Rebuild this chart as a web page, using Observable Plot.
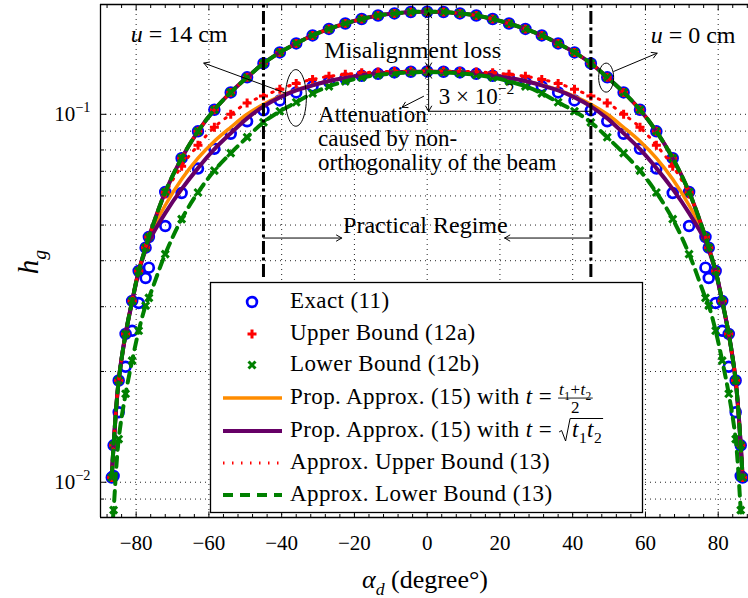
<!DOCTYPE html>
<html>
<head>
<meta charset="utf-8">
<script src="https://cdn.jsdelivr.net/npm/d3@7"></script>
<script src="https://cdn.jsdelivr.net/npm/@observablehq/plot@0.6"></script>
<style>
  html, body { margin: 0; padding: 0; background: #fff; overflow: hidden; }
  svg text { white-space: pre; }
</style>
</head>
<body>
<div id="chart"></div>
<script>
// ---------- data ----------
const alphaDeg = [-86.7, -86.2, -84.8, -82.9, -81.1, -79.3, -77.4, -76.5, -72, -67.5, -63, -58.5, -54, -49.5, -45, -40.5, -36, -31.5, -27, -22.5, -18, -13.5, -9, -4.5, 0,
  4.5, 9, 13.5, 18, 22.5, 27, 31.5, 36, 40.5, 45, 49.5, 54, 58.5, 63, 67.5, 72, 76.5, 77.4, 79.3, 81.1, 82.9, 84.8, 86.2, 86.7];

// u = 0 cm : exact, bounds and approximations coincide
const hgU0 = [0.0103, 0.0126, 0.0189, 0.0253, 0.0311, 0.0375, 0.0434, 0.0464, 0.0615, 0.0760, 0.0899, 0.1029, 0.1147, 0.1260, 0.1375, 0.1473, 0.1558, 0.1638, 0.1706, 0.1765, 0.1816, 0.1856, 0.1880, 0.1897, 0.1900,
  0.1897, 0.1880, 0.1856, 0.1816, 0.1765, 0.1706, 0.1638, 0.1558, 0.1473, 0.1375, 0.1260, 0.1147, 0.1029, 0.0899, 0.0760, 0.0615, 0.0464, 0.0434, 0.0375, 0.0311, 0.0253, 0.0189, 0.0126, 0.0103];

// u = 14 cm
const hgU14Exact = [0.0076, 0.0104, 0.0155, 0.0206, 0.0258, 0.0307, 0.0359, 0.0383, 0.0497, 0.0611, 0.0712, 0.0806, 0.0885, 0.0957, 0.1025, 0.1091, 0.1147, 0.1191, 0.1225, 0.1252, 0.1272, 0.1288, 0.1300, 0.1305, 0.1308,
  0.1305, 0.1300, 0.1288, 0.1272, 0.1252, 0.1225, 0.1191, 0.1147, 0.1091, 0.1025, 0.0957, 0.0885, 0.0806, 0.0712, 0.0611, 0.0497, 0.0383, 0.0359, 0.0307, 0.0258, 0.0206, 0.0155, 0.0104, 0.0076];
const hgU14Upper = [0.0103, 0.0126, 0.0189, 0.0253, 0.0311, 0.0375, 0.0434, 0.0464, 0.0607, 0.0723, 0.0824, 0.0922, 0.1000, 0.1073, 0.1122, 0.1169, 0.1213, 0.1244, 0.1268, 0.1284, 0.1296, 0.1304, 0.1308, 0.1310, 0.1312,
  0.1310, 0.1308, 0.1304, 0.1296, 0.1284, 0.1268, 0.1244, 0.1213, 0.1169, 0.1122, 0.1073, 0.1000, 0.0922, 0.0824, 0.0723, 0.0607, 0.0464, 0.0434, 0.0375, 0.0311, 0.0253, 0.0189, 0.0126, 0.0103];
const hgU14Lower = [0.0072, 0.0084, 0.0131, 0.0174, 0.0214, 0.0258, 0.0302, 0.0317, 0.0417, 0.0519, 0.0613, 0.0703, 0.0784, 0.0866, 0.0951, 0.1019, 0.1078, 0.1140, 0.1191, 0.1229, 0.1260, 0.1280, 0.1292, 0.1300, 0.1304,
  0.1300, 0.1292, 0.1280, 0.1260, 0.1229, 0.1191, 0.1140, 0.1078, 0.1019, 0.0951, 0.0866, 0.0784, 0.0703, 0.0613, 0.0519, 0.0417, 0.0317, 0.0302, 0.0258, 0.0214, 0.0174, 0.0131, 0.0084, 0.0072];
const hgU14PropMean = [0.0103, 0.0126, 0.0189, 0.0253, 0.0311, 0.0375, 0.0433, 0.0464, 0.0566, 0.0666, 0.0760, 0.0845, 0.0922, 0.1000, 0.1065, 0.1119, 0.1165, 0.1202, 0.1232, 0.1256, 0.1276, 0.1292, 0.1300, 0.1305, 0.1308,
  0.1305, 0.1300, 0.1292, 0.1276, 0.1256, 0.1232, 0.1202, 0.1165, 0.1119, 0.1065, 0.1000, 0.0922, 0.0845, 0.0760, 0.0666, 0.0566, 0.0464, 0.0433, 0.0375, 0.0311, 0.0253, 0.0189, 0.0126, 0.0103];
const hgU14PropGeo = [0.0103, 0.0126, 0.0189, 0.0253, 0.0309, 0.0373, 0.0428, 0.0452, 0.0539, 0.0626, 0.0714, 0.0804, 0.0888, 0.0975, 0.1051, 0.1112, 0.1161, 0.1198, 0.1232, 0.1256, 0.1276, 0.1292, 0.1300, 0.1305, 0.1308,
  0.1305, 0.1300, 0.1292, 0.1276, 0.1256, 0.1232, 0.1198, 0.1161, 0.1112, 0.1051, 0.0975, 0.0888, 0.0804, 0.0714, 0.0626, 0.0539, 0.0452, 0.0428, 0.0373, 0.0309, 0.0253, 0.0189, 0.0126, 0.0103];

const xTickValues = [-80, -60, -40, -20, 0, 20, 40, 60, 80];
const xMinorTickValues = [-88, -84, -76, -72, -68, -64, -56, -52, -48, -44, -36, -32, -28, -24, -16, -12, -8, -4,
  4, 8, 12, 16, 24, 28, 32, 36, 44, 48, 52, 56, 64, 68, 72, 76, 84, 88];
const yTickValues = [0.01, 0.1];
const yTickLabels = ["10^{−2}", "10^{−1}"];
const yMinorTickValues = [0.009, 0.02, 0.03, 0.04, 0.05, 0.06, 0.07, 0.08, 0.09];
const legendLabels = ["Exact (11)", "Upper Bound (12a)", "Lower Bound (12b)",
  "Prop. Approx. (15) with *t* =", "Prop. Approx. (15) with *t* =",
  "Approx. Upper Bound (13)", "Approx. Lower Bound (13)"];

const xDomain = [-89.8, 88.33];
const yDomain = [0.00802, 0.1988];

// ---------- build ----------
const FONT = "'Liberation Serif', 'Times New Roman', serif";
const BLUE = "#0000ff", RED = "#ff0000", GREEN = "#008000", ORANGE = "#ff8c00", PURPLE = "#660066";

const rows = alphaDeg.map((a, i) => ({a, u0: hgU0[i], ex: hgU14Exact[i], up: hgU14Upper[i], lo: hgU14Lower[i], pm: hgU14PropMean[i], pg: hgU14PropGeo[i]}));

const segSym = (dx, dy) => ({draw(c) { c.moveTo(0, 0); c.lineTo(dx, dy); }});
const plusSym = h => ({draw(c) { c.moveTo(-h, 0); c.lineTo(h, 0); c.moveTo(0, -h); c.lineTo(0, h); }});
const timesSym = h => ({draw(c) { c.moveTo(-h, -h); c.lineTo(h, h); c.moveTo(-h, h); c.lineTo(h, -h); }});
const ellipseSym = (rx, ry) => ({draw(c) {
  const k = 0.5522847;
  c.moveTo(rx, 0);
  c.bezierCurveTo(rx, ry * k, rx * k, ry, 0, ry);
  c.bezierCurveTo(-rx * k, ry, -rx, ry * k, -rx, 0);
  c.bezierCurveTo(-rx, -ry * k, -rx * k, -ry, 0, -ry);
  c.bezierCurveTo(rx * k, -ry, rx, -ry * k, rx, 0);
  c.closePath();
}});

const notesCentered = [
  {x: -68.2, y: 0.1648, t: "*u* = 14 cm"},
  {x: 73.1, y: 0.1638, t: "*u* = 0 cm"},
  {x: -4.0, y: 0.1492, t: "Misalignment loss"},
  {x: -0.5, y: 0.0500, t: "Practical Regime"}
];
const notesLeft = [
  {x: 3.2, y: 0.1115, t: "3 × 10^{−2}"},
  {x: -30, y: 0.0997, t: "Attenuation"},
  {x: -30, y: 0.0858, t: "caused by non-"},
  {x: -30, y: 0.0739, t: "orthogonality of the beam"}
];
const arrowsData = [
  {x1: -38.96, y1: 0.1142, x2: -61.4, y2: 0.1378},
  {x1: 51.3, y1: 0.1308, x2: 63.2, y2: 0.1466},
  {x1: 0.4, y1: 0.158, x2: 0.4, y2: 0.1889},
  {x1: 0.4, y1: 0.158, x2: 0.4, y2: 0.1335},
  {x1: 0.4, y1: 0.1155, x2: 0.4, y2: 0.1295},
  {x1: 0.4, y1: 0.1155, x2: 0.4, y2: 0.1019},
  {x1: -1.0, y1: 0.1119, x2: -6.9, y2: 0.1045},
  {x1: -45, y1: 0.0461, x2: -23.5, y2: 0.0461},
  {x1: 45, y1: 0.0461, x2: 21.3, y2: 0.0461}
];

const lineBase = {x: "a", curve: "catmull-rom", clip: true};
const gridStyle = {stroke: "#222", strokeWidth: 1, strokeDasharray: "1,4"};

const plot = Plot.plot({
  width: 748, height: 598,
  marginLeft: 100, marginRight: 0, marginTop: 4, marginBottom: 81,
  x: {domain: xDomain, axis: null},
  y: {type: "log", domain: yDomain, axis: null},
  style: {fontFamily: FONT, fontSize: "21px", background: "#fff"},
  marks: [
    Plot.ruleX(xTickValues, {x: d => d, ...gridStyle}),
    Plot.ruleY([...yMinorTickValues, ...yTickValues], {y: d => d, ...gridStyle}),

    Plot.dot(rows, {x: "a", y: "u0", r: 4.9, stroke: BLUE, strokeWidth: 2.7, fill: "none", clip: true}),
    Plot.dot(rows, {x: "a", y: "ex", r: 4.9, stroke: BLUE, strokeWidth: 2.7, fill: "none", clip: true}),
    Plot.dot(rows, {x: "a", y: "u0", symbol: plusSym(4.5), stroke: RED, strokeWidth: 3, fill: "none", clip: true}),
    Plot.dot(rows, {x: "a", y: "up", symbol: plusSym(4.5), stroke: RED, strokeWidth: 3, fill: "none", clip: true}),
    Plot.dot(rows, {x: "a", y: "u0", symbol: timesSym(3.5), stroke: GREEN, strokeWidth: 3, fill: "none", clip: true}),
    Plot.dot(rows, {x: "a", y: "lo", symbol: timesSym(3.5), stroke: GREEN, strokeWidth: 3, fill: "none", clip: true}),

    Plot.line(rows, {...lineBase, y: "u0", stroke: ORANGE, strokeWidth: 3.5}),
    Plot.line(rows, {...lineBase, y: "pm", stroke: ORANGE, strokeWidth: 3.5}),
    Plot.line(rows, {...lineBase, y: "u0", stroke: PURPLE, strokeWidth: 4}),
    Plot.line(rows, {...lineBase, y: "pg", stroke: PURPLE, strokeWidth: 4}),
    Plot.line(rows, {...lineBase, y: "u0", stroke: RED, strokeWidth: 3, strokeDasharray: "1.5,7.5"}),
    Plot.line(rows, {...lineBase, y: "up", stroke: RED, strokeWidth: 3, strokeDasharray: "1.5,7.5"}),
    Plot.line(rows, {...lineBase, y: "u0", stroke: GREEN, strokeWidth: 4, strokeDasharray: "10,7"}),
    Plot.line(rows, {...lineBase, y: "lo", stroke: GREEN, strokeWidth: 4, strokeDasharray: "10,7"}),

    Plot.ruleX([-45, 45], {x: d => d, y1: 0.036, y2: yDomain[1], stroke: "#000", strokeWidth: 3, strokeDasharray: "13,3.5,3,3.5"}),

    Plot.ruleY([0.1019], {y: d => d, x1: 0.4, x2: 45, stroke: "#000", strokeWidth: 1}),
    Plot.arrow(arrowsData, {x1: "x1", y1: "y1", x2: "x2", y2: "y2", stroke: "#000", strokeWidth: 1, headLength: 9}),
    Plot.dot([{x: -36.1, y: 0.1108}], {x: "x", y: "y", symbol: ellipseSym(10.5, 28.3), stroke: "#000", strokeWidth: 1, fill: "none"}),
    Plot.dot([{x: 49.2, y: 0.1258}], {x: "x", y: "y", symbol: ellipseSym(7.5, 14.5), stroke: "#000", strokeWidth: 1, fill: "none"}),
    Plot.text(notesCentered, {x: "x", y: "y", text: "t", fontSize: 24, textAnchor: "middle", fill: "#000"}),
    Plot.text(notesLeft, {x: "x", y: "y", text: "t", fontSize: 23, textAnchor: "start", fill: "#000"}),

    // frame and inward ticks
    Plot.ruleX([xDomain[0]], {x: d => d, stroke: "#000", strokeWidth: 1.3}),
    Plot.ruleY(yDomain, {y: d => d, stroke: "#000", strokeWidth: 1.3}),
    Plot.dot(xTickValues, {x: d => d, y: yDomain[0], symbol: segSym(0, -6), stroke: "#000", strokeWidth: 1, fill: "none"}),
    Plot.dot(xMinorTickValues, {x: d => d, y: yDomain[0], symbol: segSym(0, -3.5), stroke: "#000", strokeWidth: 1, fill: "none"}),
    Plot.dot(xTickValues, {x: d => d, y: yDomain[1], symbol: segSym(0, 6), stroke: "#000", strokeWidth: 1, fill: "none"}),
    Plot.dot(xMinorTickValues, {x: d => d, y: yDomain[1], symbol: segSym(0, 3.5), stroke: "#000", strokeWidth: 1, fill: "none"}),
    Plot.dot(yTickValues, {x: xDomain[0], y: d => d, symbol: segSym(6, 0), stroke: "#000", strokeWidth: 1, fill: "none"}),
    Plot.dot(yMinorTickValues, {x: xDomain[0], y: d => d, symbol: segSym(3.5, 0), stroke: "#000", strokeWidth: 1, fill: "none"}),

    // tick labels
    Plot.text(xTickValues, {x: d => d, y: yDomain[0], dy: 26, text: d => d < 0 ? "−" + (-d) : String(d), fontSize: 21, fill: "#000"}),
    Plot.text(yTickValues, {x: xDomain[0], y: d => d, dx: -10, text: (d, i) => yTickLabels[i], textAnchor: "end", fontSize: 21, fill: "#000"})
  ]
});

document.getElementById("chart").appendChild(plot);

// ---------- rich text helper (italic, sub, sup) ----------
function setRich(node, s, fs) {
  const segs = []; let italic = false, buf = "", i = 0;
  const flush = () => { if (buf) segs.push({t: buf, italic, mode: "n"}); buf = ""; };
  while (i < s.length) {
    const c = s[i];
    if (c === "*") { flush(); italic = !italic; i++; }
    else if ((c === "_" || c === "^") && s[i + 1] === "{") {
      flush(); const j = s.indexOf("}", i);
      segs.push({t: s.slice(i + 2, j), italic, mode: c === "_" ? "sub" : "sup"}); i = j + 1;
    } else { buf += c; i++; }
  }
  flush();
  node.textContent = "";
  let shift = 0;
  for (const g of segs) {
    const ts = document.createElementNS("http://www.w3.org/2000/svg", "tspan");
    ts.textContent = g.t;
    if (g.italic) ts.setAttribute("font-style", "italic");
    const target = g.mode === "sup" ? -0.45 * fs : g.mode === "sub" ? 0.28 * fs : 0;
    if (g.mode !== "n") ts.setAttribute("font-size", (0.68 * fs).toFixed(1));
    if (target !== shift) { ts.setAttribute("dy", (target - shift).toFixed(2)); shift = target; }
    node.appendChild(ts);
  }
}

plot.querySelectorAll("text").forEach(t => {
  const s = t.textContent;
  if (/\*|[_^]\{/.test(s)) setRich(t, s, parseFloat(getComputedStyle(t).fontSize) || 21);
});

const svg = d3.select(plot);

// axis titles
const yl = svg.append("text").attr("transform", "translate(28,262) rotate(-90)")
  .attr("text-anchor", "middle").attr("dy", "0.35em").attr("font-family", FONT).attr("font-size", 29).attr("fill", "#000");
setRich(yl.node(), "*h_{g}*", 29);
const xl = svg.append("text").attr("x", 425).attr("y", 579)
  .attr("text-anchor", "middle").attr("dy", "0.35em").attr("font-family", FONT).attr("font-size", 26).attr("fill", "#000");
setRich(xl.node(), "*α_{d}* (degree°)", 26);

// ---------- legend ----------
const LFS = 23;
const lg = svg.append("g").attr("font-family", FONT).attr("font-size", LFS).attr("fill", "#000")
  .attr("text-anchor", "start").attr("letter-spacing", "0.4px");
lg.append("rect").attr("x", 210.5).attr("y", 282.5).attr("width", 432).attr("height", 230)
  .attr("fill", "#fff").attr("stroke", "#000").attr("stroke-width", 1.3);
const rowY = [300, 332, 363, 396, 429, 461, 493];
const mx = 252, lx1 = 223, lx2 = 282, tx = 290;
lg.append("circle").attr("cx", mx).attr("cy", rowY[0] + 2).attr("r", 4.9)
  .attr("fill", "none").attr("stroke", BLUE).attr("stroke-width", 2.7);
{ const y = rowY[1] + 2;
  lg.append("path").attr("d", `M${mx - 4.5},${y}H${mx + 4.5}M${mx},${y - 4.5}V${y + 4.5}`)
    .attr("stroke", RED).attr("stroke-width", 3).attr("fill", "none"); }
{ const y = rowY[2] + 2, h = 3.5;
  lg.append("path").attr("d", `M${mx - h},${y - h}L${mx + h},${y + h}M${mx - h},${y + h}L${mx + h},${y - h}`)
    .attr("stroke", GREEN).attr("stroke-width", 3).attr("fill", "none"); }
const legLines = [
  {row: 3, stroke: ORANGE, w: 3.5, dash: null},
  {row: 4, stroke: PURPLE, w: 4, dash: null},
  {row: 5, stroke: RED, w: 3, dash: "1.5,7.5"},
  {row: 6, stroke: GREEN, w: 4, dash: "10,7"}
];
legLines.forEach(l => {
  lg.append("line").attr("x1", lx1).attr("x2", lx2).attr("y1", rowY[l.row] + 2).attr("y2", rowY[l.row] + 2)
    .attr("stroke", l.stroke).attr("stroke-width", l.w).attr("stroke-dasharray", l.dash);
});
const legTexts = legendLabels.map((s, i) => {
  const t = lg.append("text").attr("x", tx).attr("y", rowY[i]).attr("dy", "0.35em");
  setRich(t.node(), s, LFS);
  return t;
});
// fraction (t1+t2)/2
{
  const w = legTexts[3].node().getComputedTextLength();
  const fx = tx + w + 7, base = rowY[3] + 0.35 * LFS;
  const num = lg.append("text").attr("x", fx).attr("y", base - 9).attr("font-size", 17);
  setRich(num.node(), "*t*_{1}+*t*_{2}", 17);
  const nw = num.node().getComputedTextLength();
  lg.append("line").attr("x1", fx - 1).attr("x2", fx + nw + 1).attr("y1", base - 6).attr("y2", base - 6)
    .attr("stroke", "#000").attr("stroke-width", 0.9);
  lg.append("text").attr("x", fx + nw / 2).attr("y", base + 9).attr("font-size", 17).attr("text-anchor", "middle").text("2");
}
// sqrt(t1 t2)
{
  const w = legTexts[4].node().getComputedTextLength();
  const sx = tx + w + 7, cy = rowY[4] + 2;
  const rad = lg.append("text").attr("x", sx + 13).attr("y", rowY[4]).attr("dy", "0.35em");
  setRich(rad.node(), "*t*_{1}*t*_{2}", LFS);
  const rw = rad.node().getComputedTextLength();
  lg.append("path").attr("d", `M${sx},${cy + 1}L${sx + 2.5},${cy - 0.5}L${sx + 6.5},${cy + 10}L${sx + 11},${cy - 12.5}H${sx + 14 + rw}`)
    .attr("fill", "none").attr("stroke", "#000").attr("stroke-width", 1);
}
</script>
</body>
</html>
